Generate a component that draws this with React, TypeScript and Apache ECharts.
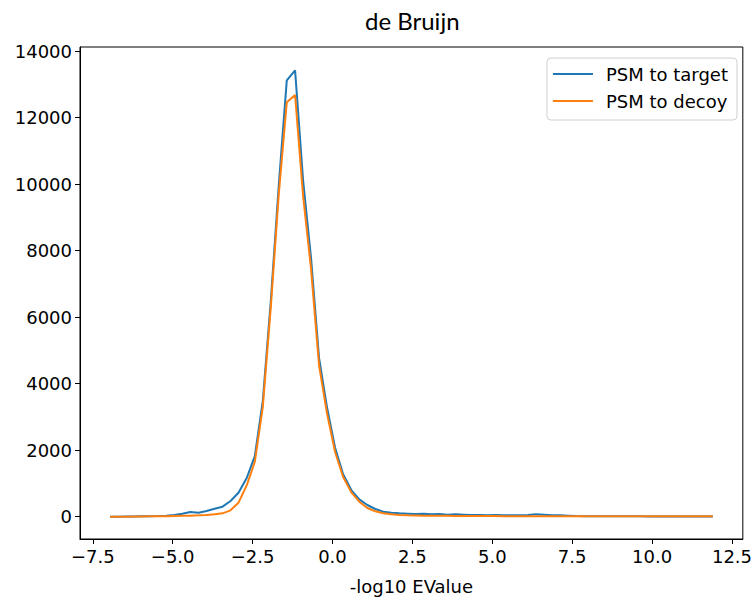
import React, { useEffect, useRef } from "react";
import * as echarts from "echarts";

const xValues = [
  -6.96, -6.71, -6.46, -6.21, -5.95, -5.7, -5.45, -5.2, -4.95, -4.7,
  -4.45, -4.19, -3.94, -3.69, -3.44, -3.19, -2.94, -2.68, -2.43, -2.18,
  -1.93, -1.68, -1.43, -1.17, -0.92, -0.67, -0.42, -0.17, 0.08, 0.33,
  0.59, 0.84, 1.09, 1.34, 1.59, 1.84, 2.09, 2.35, 2.6, 2.85,
  3.1, 3.35, 3.6, 3.85, 4.11, 4.36, 4.61, 4.86, 5.11, 5.36,
  5.61, 5.87, 6.12, 6.37, 6.62, 6.87, 7.12, 7.38, 7.63, 7.88,
  8.13, 8.38, 8.63, 8.88, 9.14, 9.39, 9.64, 9.89, 10.14, 10.39,
  10.64, 10.9, 11.15, 11.4, 11.65, 11.9,
];

const targetValues = [
  0, 0, 5, 5, 10, 15, 20, 30, 50, 90,
  140, 120, 170, 240, 300, 470, 720, 1170, 1820, 3480,
  6480, 9970, 13120, 13420, 10120, 7770, 4770, 3280, 2080, 1280,
  800, 520, 350, 230, 150, 120, 100, 90, 80, 90,
  70, 80, 60, 70, 60, 50, 50, 45, 50, 40,
  45, 40, 50, 70, 60, 40, 40, 30, 20, 15,
  15, 10, 10, 10, 10, 10, 10, 5, 5, 5,
  5, 5, 5, 5, 5, 5,
];

const decoyValues = [
  0, 0, 0, 5, 5, 10, 10, 15, 20, 25,
  30, 40, 50, 70, 100, 190, 420, 950, 1650, 3300,
  6300, 9700, 12460, 12680, 9650, 7450, 4550, 3100, 1950, 1200,
  730, 450, 260, 160, 100, 70, 50, 40, 35, 30,
  30, 25, 25, 20, 20, 20, 20, 20, 20, 15,
  15, 15, 15, 15, 15, 15, 15, 15, 10, 10,
  10, 10, 10, 10, 10, 10, 10, 10, 10, 10,
  10, 10, 10, 10, 10, 10,
];

const xTicks = [-7.5, -5.0, -2.5, 0.0, 2.5, 5.0, 7.5, 10.0, 12.5];
const yTicks = [0, 2000, 4000, 6000, 8000, 10000, 12000, 14000];

const seriesNames = ["PSM to target", "PSM to decoy"];
const colors = ["#1f77b4", "#ff7f0e"];

const fmtX = (v: number) => {
  const s = Math.abs(v).toFixed(1);
  return v < 0 ? "\u2212" + s : s;
};

export default function App() {
  const ref = useRef<HTMLDivElement>(null);
  useEffect(() => {
    if (!ref.current) return;
    const chart = echarts.init(ref.current, undefined, { renderer: "svg" });
    const font = "DejaVu Sans";
    const fs = 18;
    chart.setOption({
      animation: false,
      backgroundColor: "#ffffff",
      title: {
        text: "de Bruijn",
        left: 360,
        top: 3,
        textStyle: { fontFamily: "Lato", fontSize: 24, fontWeight: "normal", color: "#000" },
      },
      legend: {
        orient: "vertical",
        right: 18,
        top: 58,
        padding: [7, 9, 10, 6],
        itemWidth: 40,
        itemHeight: 2,
        itemGap: 9,
        icon: "rect",
        backgroundColor: "#ffffff",
        borderColor: "#d0d0d0",
        borderWidth: 1,
        borderRadius: 4,
        data: seriesNames,
        textStyle: { fontFamily: font, fontSize: fs, color: "#000", padding: [0, 0, 0, 8] },
      },
      grid: {
        left: 80,
        right: 9,
        top: 47,
        bottom: 56,
        show: true,
        borderColor: "#000",
        borderWidth: 1,
      },
      xAxis: {
        type: "value",
        min: -7.9,
        max: 12.84,
        name: "-log10 EValue",
        nameLocation: "middle",
        nameGap: 38,
        nameTextStyle: { fontFamily: font, fontSize: fs, color: "#000" },
        axisLine: { show: true, onZero: false, lineStyle: { color: "#000", width: 1 } },
        axisTick: { show: true, length: 5, customValues: xTicks, lineStyle: { color: "#000" } },
        axisLabel: {
          customValues: xTicks,
          formatter: (v: number) => fmtX(v),
          fontFamily: font,
          fontSize: fs,
          color: "#000",
          margin: 8,
        },
        splitLine: { show: false },
      },
      yAxis: {
        type: "value",
        min: -672,
        max: 14122,
        axisLine: { show: true, onZero: false, lineStyle: { color: "#000", width: 1 } },
        axisTick: { show: true, length: 5, customValues: yTicks, lineStyle: { color: "#000" } },
        axisLabel: {
          customValues: yTicks,
          formatter: (v: number) => String(Math.round(v)),
          fontFamily: font,
          fontSize: fs,
          color: "#000",
          margin: 8,
        },
        splitLine: { show: false },
      },
      series: [
        {
          name: seriesNames[0],
          type: "line",
          showSymbol: false,
          data: xValues.map((x, i) => [x, targetValues[i]]),
          lineStyle: { color: colors[0], width: 2 },
          itemStyle: { color: colors[0] },
        },
        {
          name: seriesNames[1],
          type: "line",
          showSymbol: false,
          data: xValues.map((x, i) => [x, decoyValues[i]]),
          lineStyle: { color: colors[1], width: 2 },
          itemStyle: { color: colors[1] },
        },
      ],
    });
    return () => chart.dispose();
  }, []);
  return (
    <div
      ref={ref}
      style={{ position: "fixed", left: 0, top: 0, width: 755, height: 600 }}
    />
  );
}
